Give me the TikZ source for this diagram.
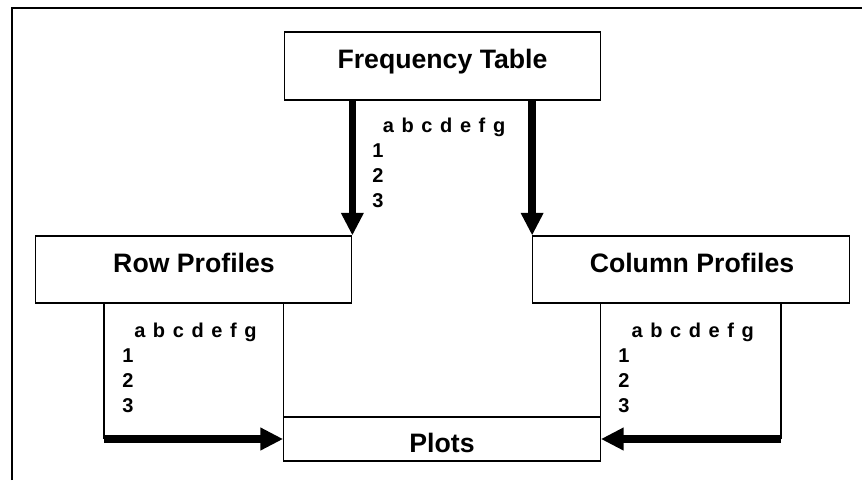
\documentclass[tikz,border=0pt]{standalone}
\usepackage{fontspec}
\setmainfont{Liberation Sans}
\usetikzlibrary{arrows.meta}

\newcommand{\letterrow}[1]{\hspace*{#1}{\spaceskip=5.7pt\relax a b c d e f g}}

\tikzset{
  box/.style={draw, line width=0.8pt, inner sep=0pt, minimum width=237.5pt},
  heading/.style={font=\fontsize{20}{24}\selectfont\bfseries, inner sep=0pt, anchor=base},
  tabtext/.style={font=\fontsize{15}{18.75}\selectfont\bfseries, align=left, inner sep=0pt, anchor=base west},
  bigarrow/.style={line width=5.5pt, -{Triangle[length=17pt,width=16pt]}},
}

\begin{document}
\begin{tikzpicture}[x=0.75pt,y=0.75pt,yscale=-1,xscale=1]
\useasboundingbox (0,0) rectangle (862,480);

% frame
\draw[line width=1.6pt] (12,480) -- (12,8) -- (862,8);

% boxes
\node[box, minimum height=51pt] (freq) at (442.5,66) {};
\node[box, minimum height=50.25pt] (row) at (193.5,269.5) {};
\node[box, minimum height=50.25pt] (col) at (691,269.5) {};
\node[box, minimum height=33pt] (plots) at (442,439) {};

\node[heading] (freqtitle) at (442.5,68) {Frequency Table};
\node[heading] (rowtitle) at (194,272) {Row Profiles};
\node[heading] (coltitle) at (692,272) {Column Profiles};
\node[heading] (plotstitle) at (442,452) {Plots};

% little tables (base = last line)
\node[tabtext] (freqtab) at (372,207) {\letterrow{8pt}\\1\\2\\3};
\node[tabtext] (rowtab) at (122,412) {\letterrow{9pt}\\1\\2\\3};
\node[tabtext] (coltab) at (618,412) {\letterrow{10pt}\\1\\2\\3};

\coordinate (rowfoot) at (104,439);
\coordinate (colfoot) at (781,439);

% connectors
\draw[bigarrow] (freq.south -| row.north east) -- (row.north east);
\draw[bigarrow] (freq.south -| col.north west) -- (col.north west);

\draw[line width=0.8pt] (row.south -| plots.north west) -- (plots.north west);
\draw[line width=0.8pt] (row.south -| rowfoot) -- (rowfoot);
\draw[bigarrow] (rowfoot) -- (plots.west);

\draw[line width=0.8pt] (col.south -| plots.north east) -- (plots.north east);
\draw[line width=0.8pt] (col.south -| colfoot) -- (colfoot);
\draw[bigarrow] (colfoot) -- (plots.east);

\end{tikzpicture}
\end{document}
